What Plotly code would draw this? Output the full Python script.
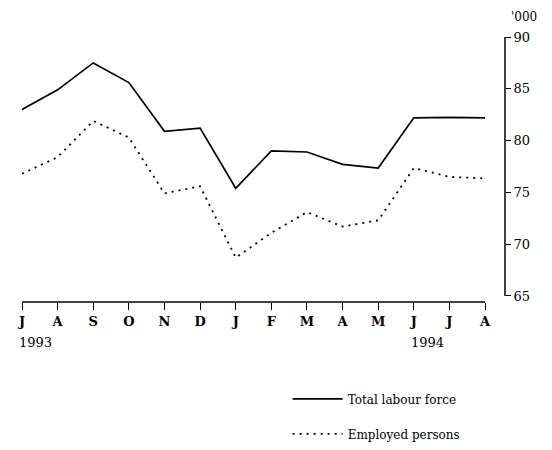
import plotly.graph_objects as go

months = ["J", "A", "S", "O", "N", "D", "J", "F", "M", "A", "M", "J", "J", "A"]
total_labour_force = [83.0, 84.9, 87.5, 85.6, 80.9, 81.2, 75.4, 79.0, 78.9, 77.7, 77.35, 82.2, 82.25, 82.2]
employed_persons = [76.8, 78.4, 81.9, 80.3, 74.9, 75.6, 68.7, 71.1, 73.1, 71.7, 72.3, 77.35, 76.5, 76.35]
y_ticks = [65, 70, 75, 80, 85, 90]
year_labels = [(0, "1993"), (11, "1994")]

x = list(range(len(months)))
FONT = "DejaVu Serif"

fig = go.Figure()
fig.add_trace(go.Scatter(x=x, y=total_labour_force, mode="lines", name="Total labour force",
                         legendgroup="a", line=dict(color="black", width=1.7)))
fig.add_trace(go.Scatter(x=x, y=employed_persons, mode="lines", name="Employed persons",
                         legendgroup="b", line=dict(color="black", width=1.8, dash="2px,5px")))

# axis lines
fig.add_shape(type="line", xref="x", yref="paper", x0=0, x1=len(months) - 1, y0=0, y1=0,
              line=dict(color="black", width=1.5))
fig.add_shape(type="line", xref="paper", yref="y", x0=1, x1=1, y0=min(y_ticks), y1=max(y_ticks),
              line=dict(color="black", width=1.5))

for xi, label in year_labels:
    fig.add_annotation(x=xi, y=-0.188, xref="x", yref="paper", text=label, showarrow=False,
                       xanchor="left", xshift=-5, font=dict(family=FONT, size=13, color="black"))

fig.add_annotation(x=1, y=1, xref="paper", yref="paper", text="'000", showarrow=False,
                   xanchor="left", yanchor="bottom", xshift=4, yshift=11,
                   font=dict(family=FONT, size=12, color="black"))

fig.update_xaxes(range=[0, 13.56], tickmode="array", tickvals=x,
                 ticktext=["<b>%s</b>" % m for m in months],
                 ticks="outside", ticklen=7, tickcolor="black", tickwidth=1.2,
                 showline=False, showgrid=False, zeroline=False,
                 tickfont=dict(family=FONT, size=13, color="black"))
fig.update_yaxes(range=[64.42, 90], side="right", tickmode="array", tickvals=y_ticks,
                 ticks="outside", ticklen=5, tickcolor="black", tickwidth=1.2,
                 showline=False, showgrid=False, zeroline=False,
                 tickfont=dict(family=FONT, size=13, color="black"))

fig.update_layout(
    width=552, height=450,
    margin=dict(l=10, r=55, t=29, b=156),
    plot_bgcolor="white", paper_bgcolor="white",
    font=dict(family=FONT, size=12, color="black"),
    showlegend=True,
    legend=dict(x=0.55, y=-0.311, xanchor="left", yanchor="top", bgcolor="rgba(0,0,0,0)",
                tracegroupgap=16, itemwidth=50, font=dict(family=FONT, size=12, color="black")),
)

fig.write_html("out.html")
